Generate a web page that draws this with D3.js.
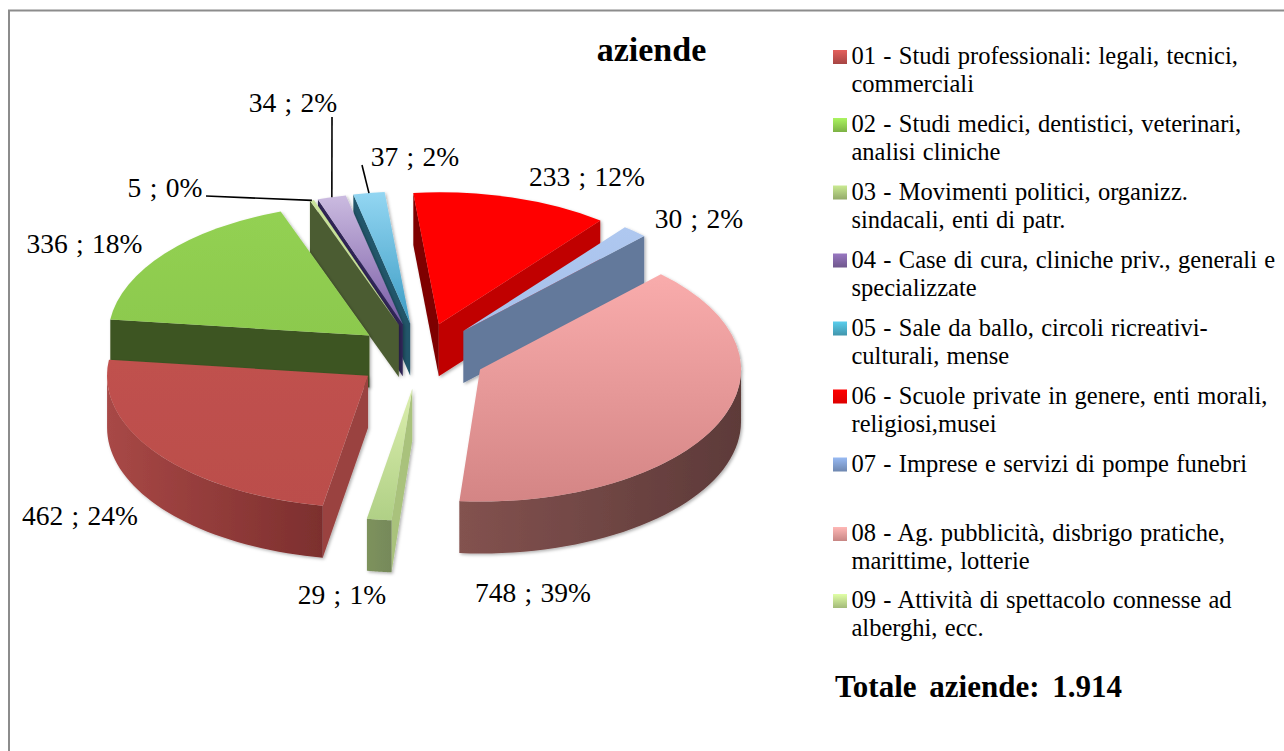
<!DOCTYPE html>
<html>
<head>
  <meta charset="utf-8">
  <title>aziende</title>
  <script src="https://d3js.org/d3.v7.min.js"></script>
  <style>
    html, body { margin: 0; padding: 0; background: #fff; }
    svg { display: block; }
  </style>
</head>
<body>
<script>
  var w = 1284, h = 751;

  // data
  var legendLines = [
    ["01 - Studi professionali: legali, tecnici,", "commerciali"],
    ["02 - Studi medici, dentistici, veterinari,", "analisi cliniche"],
    ["03 - Movimenti politici, organizz.", "sindacali, enti di patr."],
    ["04 - Case di cura, cliniche priv., generali e", "specializzate"],
    ["05 - Sale da ballo, circoli ricreativi-", "culturali, mense"],
    ["06 - Scuole private in genere, enti morali,", "religiosi,musei"],
    ["07 - Imprese e servizi di pompe funebri"],
    ["08 - Ag. pubblicità, disbrigo pratiche,", "marittime, lotterie"],
    ["09 - Attività di spettacolo connesse ad", "alberghi, ecc."]
  ];
  var values = [462, 336, 5, 34, 37, 233, 30, 748, 29];
  var percents = [24, 18, 0, 2, 2, 12, 2, 39, 1];
  var title = "aziende";
  var totalLabel = "Totale aziende: 1.914";

  // colours: top face light/dark, radial wall, curved wall left/right
  var topLight = ["#c0514e", "#93d152", "#c9e29a", "#cbbbe0", "#93d6f2", "#ff0000", "#afc8f0", "#f9acac", "#dcefae"];
  var topDark  = ["#bb4e4b", "#8cc94e", "#c3dc8e", "#7a5ca6", "#3c9cc4", "#ff0000", "#a5bfe9", "#d48585", "#b0d086"];
  var wallStart = ["#9a4340", "#3d5420", "#4c5c30", "#33265a", "#20566a", "#7e0000", "#5a6f92", "#7d5050", "#a9c27c"];
  var wallEnd   = ["#9a4340", "#3d5420", "#48582b", "#33265a", "#20566a", "#c00000", "#64799b", "#7d5050", "#a9c27c"];
  var curveLeft  = ["#a84846", "#3d5420", "#55643a", "#33265a", "#20566a", "#c00000", "#6d82a5", "#83524f", "#7d925c"];
  var curveRight = ["#7c2f2e", "#3d5420", "#48582b", "#33265a", "#20566a", "#c00000", "#6d82a5", "#5d3a39", "#76895a"];
  var swatch = ["#bf504d", "#8fcc50", "#a9c47a", "#8064a2", "#4bacc6", "#ff0000", "#7f9ccb", "#e59a98", "#bcd68c"];

  // layout
  var cx = 420.5, cy = 356, rx = 261, ry = 132, depth = 52;
  var explode = 0.25;
  var startDeg = 190;

  var labelPos = [[80, 525], [84.5, 253], [165, 197], [293, 112], [415, 166], [587, 186], [699, 228], [533, 602], [342, 604]];
  var legendY = [64, 132, 199.5, 267.5, 335.5, 403.5, 471.5, 541, 608];

  var rad = Math.PI / 180;
  var xs = d3.scaleLinear().domain([-1, 1]).range([-rx, rx]);
  var ys = d3.scaleLinear().domain([-1, 1]).range([-ry, ry]);

  var pie = d3.pie().sort(null)
    .startAngle(startDeg * rad)
    .endAngle((startDeg + 360) * rad);
  var arcs = pie(values);

  var svg = d3.select("body").append("svg").attr("width", w).attr("height", h);
  var defs = svg.append("defs");

  function grad(id, a, b, horizontal) {
    var g = defs.append("linearGradient").attr("id", id)
      .attr("x1", 0).attr("y1", 0)
      .attr("x2", horizontal ? 1 : 0).attr("y2", horizontal ? 0 : 1);
    g.append("stop").attr("offset", 0).attr("stop-color", a);
    g.append("stop").attr("offset", 1).attr("stop-color", b);
  }

  var shadow = defs.append("filter").attr("id", "soft")
    .attr("x", "-10%").attr("y", "-10%").attr("width", "125%").attr("height", "125%");
  shadow.append("feDropShadow")
    .attr("dx", 1.5).attr("dy", 1.5).attr("stdDeviation", 1.5)
    .attr("flood-color", "#000").attr("flood-opacity", 0.3);

  // frame: top and left rules only
  svg.append("path")
    .attr("d", "M9,751V10.5H1284")
    .attr("fill", "none").attr("stroke", "#8c8c8c").attr("stroke-width", 2);

  // slices, back to front
  var order = d3.range(values.length).sort(function(a, b) {
    var ma = (arcs[a].startAngle + arcs[a].endAngle) / 2;
    var mb = (arcs[b].startAngle + arcs[b].endAngle) / 2;
    return Math.cos(mb) - Math.cos(ma);
  });

  var line = d3.line();
  var unitArc = d3.arc().innerRadius(0).outerRadius(1);

  order.forEach(function(i) {
    var d = arcs[i];
    var mid = (d.startAngle + d.endAngle) / 2;
    var ax = cx + explode * xs(Math.sin(mid));
    var ay = cy - explode * ys(Math.cos(mid));

    function edge(t, dz) {
      return [ax + xs(Math.sin(t)), ay - ys(Math.cos(t)) + dz];
    }

    grad("top" + i, topLight[i], topDark[i], false);
    grad("curve" + i, curveLeft[i], curveRight[i], true);

    var g = svg.append("g").attr("filter", "url(#soft)");

    // radial walls that face the viewer
    var sDeg = ((d.startAngle / rad) % 360 + 360) % 360;
    var eDeg = ((d.endAngle / rad) % 360 + 360) % 360;
    if (sDeg > 180) {
      g.append("path")
        .attr("d", line([[ax, ay], edge(d.startAngle, 0), edge(d.startAngle, depth), [ax, ay + depth]]) + "Z")
        .attr("fill", wallStart[i]);
    }
    if (eDeg < 180) {
      g.append("path")
        .attr("d", line([[ax, ay], edge(d.endAngle, 0), edge(d.endAngle, depth), [ax, ay + depth]]) + "Z")
        .attr("fill", wallEnd[i]);
    }

    // curved outer wall, front half only (the pie runs past 360 degrees)
    [90, 450].forEach(function(lo) {
      var from = Math.max(d.startAngle, lo * rad);
      var to = Math.min(d.endAngle, (lo + 180) * rad);
      if (to > from) {
        var ts = d3.range(0, 41).map(function(k) { return from + (to - from) * k / 40; });
        var pts = ts.map(function(t) { return edge(t, 0); })
          .concat(ts.slice().reverse().map(function(t) { return edge(t, depth); }));
        g.append("path").attr("d", line(pts) + "Z").attr("fill", "url(#curve" + i + ")");
      }
    });

    // top face, from a unit arc stretched into the ellipse
    g.append("path")
      .attr("d", unitArc(d))
      .attr("transform", "translate(" + ax + "," + ay + ") scale(" + rx + "," + ry + ")")
      .attr("fill", "url(#top" + i + ")");
  });

  var serif = "'Liberation Serif', 'DejaVu Serif', serif";

  // leader lines, from the label to the slice rim
  var leaders = [
    { i: 2, to: [206, 196] },
    { i: 3, to: [332, 117] },
    { i: 4, to: [362, 165] }
  ];
  leaders.forEach(function(l) {
    var d = arcs[l.i];
    var mid = (d.startAngle + d.endAngle) / 2;
    var ax = cx + explode * xs(Math.sin(mid));
    var ay = cy - explode * ys(Math.cos(mid));
    var p = [ax + xs(Math.sin(mid)), ay - ys(Math.cos(mid))];
    svg.append("path")
      .attr("d", line([l.to, p]))
      .attr("fill", "none").attr("stroke", "#000").attr("stroke-width", 1.6);
  });

  // data labels
  svg.selectAll("text.dl")
    .data(values)
    .enter()
    .append("text")
    .attr("class", "dl")
    .attr("x", function(d, i) { return labelPos[i][0]; })
    .attr("y", function(d, i) { return labelPos[i][1]; })
    .attr("text-anchor", "middle")
    .attr("font-family", serif).attr("font-size", 27.5).attr("word-spacing", 1.5).attr("fill", "#000")
    .text(function(d, i) { return d + " ; " + percents[i] + "%"; });

  // title
  svg.append("text")
    .attr("x", 651.5).attr("y", 61).attr("text-anchor", "middle")
    .attr("font-family", serif).attr("font-weight", "bold").attr("font-size", 34)
    .text(title);

  // legend
  var legend = svg.selectAll("g.legend")
    .data(legendLines)
    .enter()
    .append("g")
    .attr("class", "legend")
    .attr("transform", function(d, i) { return "translate(851.5," + legendY[i] + ")"; });

  legend.each(function(d, i) {
    grad("sw" + i, d3.color(swatch[i]).brighter(0.5), d3.color(swatch[i]).darker(0.4), false);
  });
  legend.append("rect")
    .attr("x", -18.5).attr("y", -14).attr("width", 14).attr("height", 14)
    .attr("fill", function(d, i) { return "url(#sw" + i + ")"; });

  legend.selectAll("text")
    .data(function(d) { return d; })
    .enter()
    .append("text")
    .attr("y", function(d, k) { return k * 28; })
    .attr("font-family", serif).attr("font-size", 24.5).attr("word-spacing", 1.2).attr("fill", "#000")
    .text(function(d) { return d; });

  svg.append("text")
    .attr("x", 835).attr("y", 697)
    .attr("font-family", serif).attr("font-weight", "bold").attr("font-size", 31).attr("word-spacing", 5)
    .text(totalLabel);
</script>
</body>
</html>
